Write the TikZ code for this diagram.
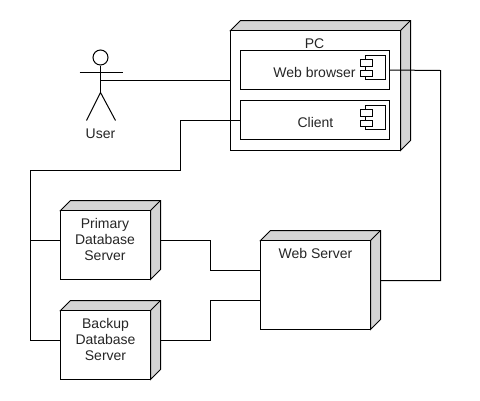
\documentclass[tikz,border=0pt]{standalone}
\usepackage{fontspec}
\setmainfont{Liberation Sans}
\newcommand{\deployface}[6]{% name, x0, y0, x1, y1, connector y
  \path[facegray] (#2,#3) -- (#2+10,#3-10) -- (#4+10,#3-10) -- (#4+10,#5-10) -- (#4,#5) -- (#4,#3) -- cycle;
  \draw[wire] (#4,#3) -- (#4+10,#3-10);
  \node[boxface,minimum width=#4-#2,minimum height=#5-#3] (#1) at ({(#2+#4)/2},{(#3+#5)/2}) {};
  \coordinate (#1R) at (#4+10,#6);
}
\newcommand{\compicon}[2]{% x, y of main rectangle top-left
  \draw[wire] (#1,#2) rectangle (#1+20,#2+24);
  \draw[wire,fill=white] (#1-5,#2+4) rectangle (#1+7,#2+11);
  \draw[wire,fill=white] (#1-5,#2+15) rectangle (#1+7,#2+21);
}
\tikzset{
  x=1pt,y=-1pt,
  wire/.style={draw=black,line width=1pt,line join=miter},
  facegray/.style={fill=black!17,draw=black,line width=1pt},
  boxface/.style={draw=black,fill=white,line width=1pt,inner sep=0pt,outer sep=0pt},
  txt/.style={font=\fontsize{14}{16}\selectfont,align=center,text=black!85,inner sep=0pt,anchor=center},
}
\begin{document}
\begin{tikzpicture}
\useasboundingbox[fill=white] (-0.5,-0.5) rectangle (479.5,399.5);
% PC
\deployface{pc}{230}{30}{400}{150}{70}
\node[boxface,minimum width=149,minimum height=39] (browser) at (314.5,69.5) {};
\node[boxface,minimum width=149,minimum height=39] (client) at (314.5,119.5) {};
\compicon{365}{55}
\compicon{365}{105}
\node[txt] (pct) at (314,43) {PC};
\node[txt] (browsert) at (314,72) {Web browser};
\node[txt] (clientt) at (315,122) {Client};
% servers
\deployface{primary}{60}{210}{150}{279}{240}
\deployface{backup}{60}{310}{150}{379}{340}
\deployface{web}{260}{240}{370}{329}{280}
\node[txt] (primaryt) at (104.5,239) {Primary\\Database\\Server};
\node[txt] (backupt) at (105,339) {Backup\\Database\\Server};
\node[txt] (webt) at (315,253) {Web Server};
% actor
\node[draw=black,fill=white,line width=1pt,circle,minimum size=15,inner sep=0pt] (head) at (100,57) {};
\coordinate (hip) at (100,92);
\coordinate (waist) at (100,80);
\coordinate (armL) at (79,72);
\coordinate (armR) at (122,72);
\coordinate (footL) at (86,120);
\coordinate (footR) at (115,120);
\draw[wire] (head.south) -- (hip);
\draw[wire] (armL) -- (armR);
\draw[wire] (footL) -- (hip) -- (footR);
\node[txt] (usert) at (100,133) {User};
% connectors
\coordinate (pcW) at (230,80);
\coordinate (bus) at (30,170);
\coordinate (pW) at (60,240);
\coordinate (bW) at (60,340);
\coordinate (wW1) at (260,270);
\coordinate (wW2) at (260,300);
\draw[wire] (waist) -- (pcW);
\draw[wire] (client.west) -- (180,119.5) -- (180,170) -- (bus) -- (30,340) -- (bW);
\draw[wire] (30,240) -- (pW);
\draw[wire] (primaryR) -- (210,240) -- (210,270) -- (wW1);
\draw[wire] (backupR) -- (210,340) -- (210,300) -- (wW2);
\draw[wire] (webR) -- (440,280) -- (440,70) -- (browser.east);
\end{tikzpicture}
\end{document}
